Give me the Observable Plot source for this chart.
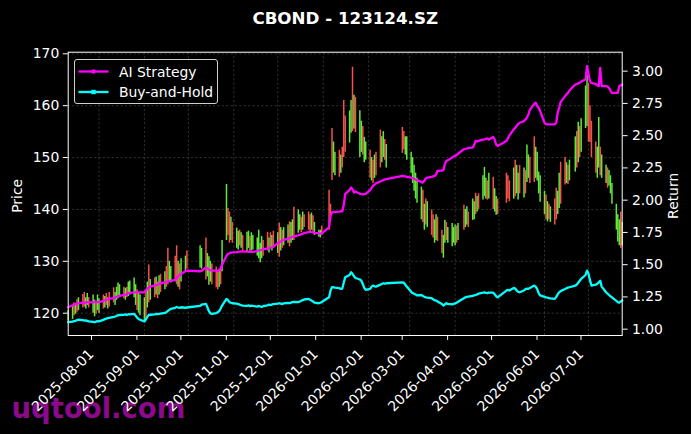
<!DOCTYPE html>
<html>
<head>
<meta charset="utf-8">
<script src="https://cdn.jsdelivr.net/npm/d3@7"></script>
<script src="https://cdn.jsdelivr.net/npm/@observablehq/plot@0.6"></script>
<style>
  html, body { margin: 0; padding: 0; background: #000; }
  #wrap { position: relative; width: 691px; height: 434px; overflow: hidden; background: #000; font-family: "DejaVu Sans", sans-serif; }
  #wrap svg { display: block; }
  #legend { position: absolute; left: 74px; top: 58.5px; width: 144px; height: 45px; border: 1px solid #cfcfcf; border-radius: 3px; box-sizing: border-box; background: rgba(0,0,0,0.8); }
  #legend svg { position: absolute; left: -1px; top: -1px; overflow: visible; }
</style>
</head>
<body>
<div id="wrap"></div>
<script>
// ---- trading days (month: day list) ----
const tradingDays = [
  "2025-07: 11 14 15 16 17 18 21 22 23 24 25 28 29 30 31",
  "2025-08: 01 04 05 06 07 08 11 12 13 14 15 18 19 20 21 22 25 26 27 28 29",
  "2025-09: 01 02 03 04 05 08 09 10 11 12 15 16 17 18 19 22 23 24 25 26 29 30",
  "2025-10: 09 10 13 14 15 16 17 20 21 22 23 24 27 28 29 30 31",
  "2025-11: 03 04 05 06 07 10 11 12 13 14 17 18 19 20 21 24 25 26 27 28",
  "2025-12: 01 02 03 04 05 08 09 10 11 12 15 16 17 18 19 22 23 24 25 26 29 30 31",
  "2026-01: 05 06 07 08 09 12 13 14 15 16 19 20 21 22 23 26 27 28 29 30",
  "2026-02: 02 03 04 05 06 09 10 11 12 13 24 25 26 27",
  "2026-03: 02 03 04 05 06 09 10 11 12 13 16 17 18 19 20 23 24 25 26 27 30 31",
  "2026-04: 01 02 03 07 08 09 10 13 14 15 16 17 20 21 22 23 24 27 28 29 30",
  "2026-05: 06 07 08 11 12 13 14 15 18 19 20 21 22 25 26 27 28 29",
  "2026-06: 01 02 03 04 05 08 09 10 11 12 15 16 17 18 22 23 24 25 26 29 30",
  "2026-07: 01 02 03 06 07 08 09 10 13 14 15 16 17 20 21 22 23 24"
];

// ---- daily candle lows (price) ----
const lows = [
  118.5,118.8,119.5,119.8,120.2,120.5,121,121.2,120.8,121.5,121,120,119.3,119.8,120.5,
  120,120.8,121,121.5,120.8,121.2,122,121.5,122.5,122.8,123,122.8,122.5,123,123.2,123.5,123,121.5,120.5,120,119.5,
  118.5,119,121,122,122.5,123,123.5,122.8,123.5,124,124.5,125,125.5,126,125.8,126,125.5,125,124.5,126,127.8,128.5,
  128.7,128.5,126.4,127,125.4,126,125.5,124.9,124.5,125,125.5,128,134,135,133.5,134,133.5,
  132.5,132.2,133,132.5,132,131.8,132.5,131.6,132,132.2,131,130.5,129.7,130.5,131,132,131.6,132.5,132,132.8,
  131.5,130.8,132,132.5,133,133.5,132.8,133.5,134,134,135.4,136,135.5,136,136.5,136,135.4,136,135.8,135,134.7,134.5,135,
  136,138.5,145.6,147,146.5,146.2,147,148,150,151,152.8,154.7,155,155.5,154.8,150,151,150.5,149,149.5,
  146,145.5,145,146,146.5,148,149,150,149.5,148,150.8,151.5,150.5,149.5,
  147,145,143.5,142,141.2,138,137.5,136,137,136.5,135,134.5,133.5,134,133.8,131.5,130.6,133.5,134,133.5,132.8,133.5,
  133,133.5,134,136,136.5,137,136.5,137.9,138,139,139.5,140,141.8,142.5,142,141.8,142,140,139.5,138.9,139,
  141.2,142,141.5,142,142.5,143,141.8,143,142.2,143,145.2,146,145,145.2,146,145.5,143,141.4,
  139,138,137.6,138,137.5,137,138,139,140.2,141,144.7,145,144.8,145.5,147.2,148,149,150,151,155.6,156,
  153,152.9,150,147,146,148,146.5,146,145,144.1,144.5,143,141,136,133.7,133,132.5,133
];

// ---- daily candle highs (price) ----
const highs = [
  120.5,121.5,122,121.8,122.6,123,123.6,124,123,123.8,123,123.5,122.5,122,123.5,
  122.8,123.5,123.2,123.8,123,124,124.9,124,125,125.8,125.5,125,124.8,125,126,126.2,126.8,125.5,124.5,124,123.5,
  123,124.5,126,129.3,126.5,126.8,127,126,127.2,127.5,128,129,132.5,130,129,131,133,130,129.5,130.5,131,132,
  133,132.5,134.5,131.5,130.9,130,129.5,128.9,128,128.5,129,134,144.8,140.2,139.5,138.5,137.5,
  136.4,135.8,136,135.5,135,135.6,135.8,134.8,135.5,135,134.5,136,133.5,134.8,134,135.6,134.5,135.5,135,135.8,
  135.5,137.4,136.5,136,136.5,137,137.6,137.5,138,140.4,139.9,139,138.5,139.5,139,139.5,139,139.3,138.8,137.5,136,136,136.8,
  143.7,141,155.6,153,151,151.4,150.5,152,161,158,159,161,167.4,162,161.6,159,157,156,153.9,153,
  151.4,150,149.5,150.5,151,155.3,154,155,153.5,152.5,155.8,155,154,154,
  151,150,148.5,147,146,144.3,143.7,141,142,141.5,139.9,139,138,139,138.5,136,135,137.9,137.5,136.5,137.3,136.5,
  137,136.8,137.3,140.8,140,140.5,139.5,142,141.5,143.1,142.5,143,146.5,148.1,146,145.5,147,146.2,144,142.5,142,
  147,146.5,145.5,148,149.5,148.5,147,148.5,148,147.5,152.4,150.5,150,154,152,151,147.2,146.5,
  143.5,142.8,141.5,141,140.5,142,144.1,143.5,147,149.1,150,149,148.5,149.5,154,155,156.8,156,157.5,163.8,165.8,
  164.3,160,157,153,152,157.7,152,150.5,148.5,148,147.5,146.5,145,141,139,138,139.5,137.5
];

// ---- candle colour per day: R = rise (red), G = fall (green) ----
const candleSide = [
  "GGRGRGRRGGRGGRG",
  "GRGRGRRGGGGRGRGGGGRGG",
  "GRGRGRGRGRGRRGGRRGRGGR",
  "GGRGGGRRRGRGGRRGR",
  "GGRGRGGRGGGGGGRRGRGR",
  "GRGRGGRGGRGGRGRRRGRGGGR",
  "RRRGGRGRRRGGRGRGGRGG",
  "RGRGRRGGRGRRGG",
  "GGGGGGRGRGRRGGRRGGRGGG",
  "GRGRGGRGGRGRGGGRGRGGR",
  "RRRGRGGRGRGGRRGGGG",
  "GRGRGRRGGRRGRGGRGRGGG",
  "RRRRGGRGGRGGGGGGRG"
].join("");

// ---- AI Strategy cumulative return ----
const aiStrategy = [
  1.170,1.185,1.190,1.195,1.198,1.200,1.205,1.203,1.207,1.209,1.208,1.207,1.210,1.209,1.209,
  1.209,1.220,1.224,1.228,1.232,1.235,1.240,1.245,1.250,1.255,1.258,1.265,1.268,1.272,1.278,1.282,1.286,1.286,1.285,1.286,1.286,
  1.286,1.300,1.315,1.325,1.330,1.338,1.342,1.345,1.350,1.356,1.362,1.366,1.370,1.372,1.375,1.382,1.395,1.410,1.420,1.428,1.450,1.454,
  1.449,1.452,1.479,1.470,1.462,1.458,1.455,1.454,1.452,1.455,1.465,1.500,1.570,1.583,1.588,1.593,1.596,
  1.598,1.600,1.602,1.603,1.603,1.601,1.600,1.600,1.601,1.600,1.605,1.610,1.612,1.615,1.620,1.625,1.628,1.632,1.634,1.638,
  1.668,1.673,1.680,1.688,1.693,1.702,1.706,1.711,1.715,1.720,1.728,1.732,1.734,1.740,1.745,1.752,1.755,1.755,1.750,1.746,1.742,1.740,1.742,
  1.789,1.880,1.905,1.908,1.910,1.912,1.914,1.913,1.960,2.047,2.080,2.098,2.085,2.060,2.067,2.050,2.047,2.045,2.047,2.048,
  2.078,2.095,2.111,2.120,2.130,2.145,2.150,2.155,2.160,2.163,2.188,2.186,2.184,2.180,
  2.175,2.170,2.165,2.160,2.155,2.140,2.136,2.150,2.170,2.175,2.180,2.186,2.188,2.200,2.227,2.230,2.232,2.280,2.304,2.310,2.330,2.340,
  2.343,2.350,2.360,2.395,2.398,2.400,2.405,2.407,2.430,2.459,2.455,2.460,2.470,2.472,2.475,2.478,2.470,2.490,2.470,2.430,2.420,
  2.459,2.480,2.500,2.549,2.560,2.575,2.590,2.600,2.613,2.625,2.640,2.665,2.700,2.747,2.755,2.730,2.716,2.690,
  2.600,2.590,2.588,2.588,2.588,2.588,2.600,2.680,2.716,2.760,2.807,2.820,2.832,2.850,2.897,2.900,2.905,2.910,2.920,2.936,3.039,
  2.980,2.923,2.909,2.900,2.890,2.884,3.026,2.884,2.884,2.880,2.870,2.850,2.832,2.832,2.832,2.884,2.890,2.897
];

// ---- Buy-and-Hold cumulative return ----
const buyAndHold = [
  1.054,1.058,1.062,1.065,1.070,1.073,1.070,1.066,1.068,1.064,1.060,1.056,1.054,1.058,1.062,
  1.060,1.072,1.078,1.082,1.085,1.088,1.095,1.098,1.102,1.108,1.110,1.112,1.114,1.110,1.116,1.114,1.119,1.105,1.090,1.080,1.073,
  1.060,1.075,1.095,1.110,1.112,1.115,1.118,1.116,1.119,1.121,1.126,1.132,1.142,1.150,1.158,1.166,1.172,1.168,1.165,1.170,1.166,1.168,
  1.180,1.190,1.196,1.170,1.140,1.122,1.119,1.125,1.131,1.140,1.160,1.183,1.235,1.225,1.210,1.205,1.201,
  1.198,1.195,1.190,1.186,1.183,1.180,1.185,1.178,1.183,1.180,1.175,1.180,1.176,1.172,1.178,1.185,1.190,1.186,1.192,1.195,
  1.198,1.201,1.198,1.195,1.200,1.204,1.201,1.206,1.209,1.212,1.209,1.215,1.220,1.225,1.230,1.235,1.228,1.222,1.215,1.205,1.201,1.205,1.210,
  1.247,1.300,1.325,1.325,1.322,1.318,1.312,1.315,1.360,1.402,1.420,1.441,1.430,1.410,1.397,1.385,1.376,1.350,1.320,1.305,
  1.312,1.330,1.338,1.332,1.330,1.345,1.350,1.356,1.352,1.356,1.363,1.360,1.345,1.330,
  1.290,1.280,1.274,1.268,1.262,1.265,1.258,1.250,1.247,1.245,1.240,1.232,1.225,1.222,1.215,1.195,1.183,1.192,1.201,1.196,1.192,1.196,
  1.200,1.205,1.212,1.240,1.247,1.250,1.252,1.258,1.262,1.265,1.270,1.275,1.283,1.286,1.282,1.280,1.284,1.283,1.270,1.255,1.247,
  1.299,1.305,1.300,1.320,1.315,1.300,1.290,1.286,1.300,1.310,1.315,1.312,1.320,1.338,1.330,1.310,1.280,1.262,
  1.250,1.247,1.245,1.240,1.238,1.235,1.250,1.270,1.286,1.295,1.312,1.318,1.322,1.325,1.338,1.345,1.360,1.375,1.390,1.420,1.454,
  1.430,1.380,1.338,1.345,1.352,1.363,1.375,1.330,1.286,1.275,1.265,1.255,1.247,1.220,1.209,1.205,1.215,1.222
];

// ---- axis ticks ----
const priceTicks = [120, 130, 140, 150, 160, 170];
const returnTicks = [1.00, 1.25, 1.50, 1.75, 2.00, 2.25, 2.50, 2.75, 3.00];
const monthTicks = ["2025-08-01","2025-09-01","2025-10-01","2025-11-01","2025-12-01","2026-01-01",
  "2026-02-01","2026-03-01","2026-04-01","2026-05-01","2026-06-01","2026-07-01"];

// ---- build table ----
const dates = tradingDays.flatMap(s => {
  const [m, days] = s.split(": ");
  return days.trim().split(/\s+/).map(d => new Date(`${m}-${d}T00:00:00Z`));
});
const n = Math.min(dates.length, lows.length, highs.length, candleSide.length, aiStrategy.length, buyAndHold.length);
const RED = "#f4524a", GREEN = "#62e83c";
const rows = d3.range(n).map(i => ({
  date: dates[i], low: lows[i], high: highs[i],
  color: candleSide[i] === "R" ? RED : GREEN,
  ai: aiStrategy[i], bh: buyAndHold[i]
}));

// price axis (left) and return axis (right) share the vertical extent
const priceDomain = [115.70, 170.31];
const returnDomain = [0.951, 3.147];
const toPrice = d3.scaleLinear().domain(returnDomain).range(priceDomain);
const monthDates = monthTicks.map(d => new Date(d + "T00:00:00Z"));

const font = "DejaVu Sans, sans-serif";
const gridStyle = {stroke: "#9a9a9a", strokeOpacity: 0.45, strokeWidth: 0.7, strokeDasharray: "2.2,2.2"};
const chart = Plot.plot({
  width: 691, height: 434,
  marginLeft: 67.7, marginRight: 69.3, marginTop: 51.7, marginBottom: 99,
  style: {background: "#000", color: "#fff", fontFamily: font, fontSize: "13.9px", overflow: "visible"},
  x: {type: "utc", domain: [dates[0], dates[n - 1]]},
  y: {domain: priceDomain},
  color: {type: "identity"},
  marks: [
    Plot.text(["uqtool.com"], {frameAnchor: "bottom-left", dx: 11 - 67.7, dy: 73.4, textAnchor: "start", lineAnchor: "middle",
      fontSize: 27.5, fontWeight: "bold", fill: "#8a0a8a"}),
    Plot.gridY(priceTicks, gridStyle),
    Plot.gridX(monthDates, gridStyle),
    Plot.ruleX(rows, {x: "date", y1: "low", y2: "high", stroke: "color", strokeWidth: 1.5}),
    Plot.lineY(rows, {x: "date", y: d => toPrice(d.bh), stroke: "#00ffff", strokeWidth: 2.3}),
    Plot.lineY(rows, {x: "date", y: d => toPrice(d.ai), stroke: "#ff00ff", strokeWidth: 2.3}),
    Plot.frame({stroke: "#fff", strokeWidth: 1}),
    Plot.axisY(priceTicks, {anchor: "left", tickSize: 4.9, tickPadding: 4, label: null, stroke: "#fff", fill: "#fff"}),
    Plot.axisY(returnTicks.map(toPrice), {anchor: "right", tickSize: 4.9, tickPadding: 4.9, label: null,
      tickFormat: p => toPrice.invert(p).toFixed(2), stroke: "#fff", fill: "#fff"}),
    Plot.axisX(monthDates, {anchor: "bottom", tickSize: 4.9, tickPadding: 11.5, tickRotate: -45,
      textAnchor: "end", lineAnchor: "middle", dx: -7.5, label: null, tickFormat: d3.utcFormat("%Y-%m-%d"), stroke: "#fff", fill: "#fff"}),
    Plot.text(["CBOND - 123124.SZ"], {frameAnchor: "top", dy: -33.7, textAnchor: "middle", lineAnchor: "middle",
      fontWeight: "bold", fontSize: 16.7, fill: "#fff"}),
    Plot.text(["Price"], {frameAnchor: "left", dx: -50.2, dy: 2, rotate: -90, textAnchor: "middle", lineAnchor: "middle", fill: "#fff"}),
    Plot.text(["Return"], {frameAnchor: "right", dx: 51.5, dy: 2, rotate: -90, textAnchor: "middle", lineAnchor: "middle", fill: "#fff"})
  ]
});
const wrap = document.getElementById("wrap");
wrap.appendChild(chart);

// legend
const legend = document.createElement("div");
legend.id = "legend";
legend.innerHTML = `
<svg width="146" height="47" font-family="${font}" font-size="13.9px">
  <line x1="4.5" y1="12.5" x2="34.5" y2="12.5" stroke="#ff00ff" stroke-width="2.3"/>
  <circle cx="19.5" cy="12.5" r="2.3" fill="#ff00ff"/>
  <text x="45" y="17.5" fill="#fff">AI Strategy</text>
  <line x1="4.5" y1="33" x2="34.5" y2="33" stroke="#00ffff" stroke-width="2.3"/>
  <rect x="17.3" y="30.8" width="4.4" height="4.4" fill="#00ffff"/>
  <text x="45" y="38" fill="#fff">Buy-and-Hold</text>
</svg>`;
wrap.appendChild(legend);
</script>
</body>
</html>
